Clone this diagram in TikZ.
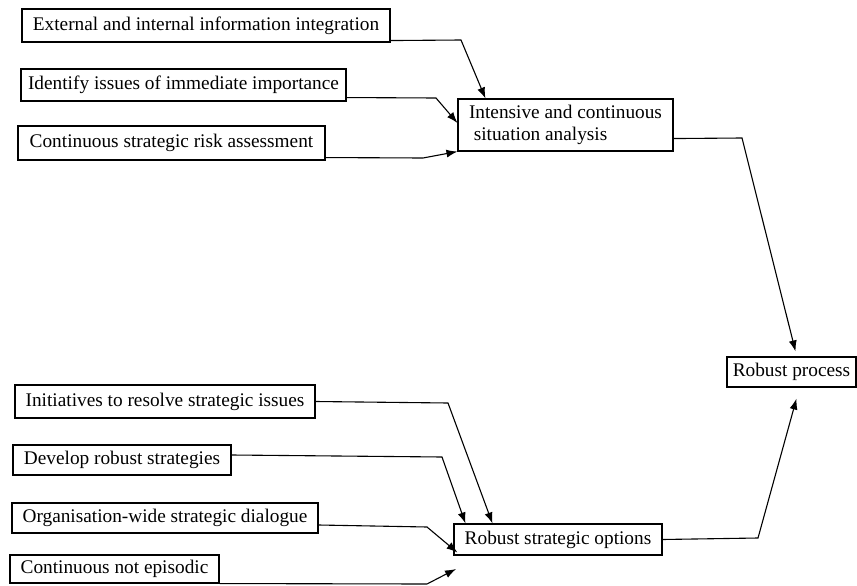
\documentclass[tikz,border=0pt]{standalone}
\usepackage{fontspec}
\setmainfont{Liberation Serif}
\usetikzlibrary{arrows.meta}
\begin{document}
\begin{tikzpicture}[x=1pt,y=-1pt,
  box/.style={draw, line width=1.1pt, inner sep=0pt, anchor=center,
    font=\fontsize{19.3}{21.5}\selectfont},
  arr/.style={line width=1.1pt, -{Latex[length=11pt,width=8pt]}}]
\useasboundingbox (0,0) rectangle (857,586);

% inputs to situation analysis
\node[box, minimum width=368pt, minimum height=33pt] (A) at (206,25.5) {External and internal information integration};
\node[box, minimum width=325pt, minimum height=32pt] (B) at (183.5,85) {Identify issues of immediate importance};
\node[box, minimum width=307pt, minimum height=34pt] (C) at (171.5,143) {Continuous strategic risk assessment};
\node[box, minimum width=215pt, minimum height=52pt, align=left] (I) at (565.5,125)
  {Intensive and continuous\\\hspace{0.25em}situation analysis};

% outcome
\node[box, minimum width=129pt, minimum height=30pt] (R) at (791.5,372) {Robust process};

% inputs to strategic options
\node[box, minimum width=300pt, minimum height=33pt] (D) at (165,401.5) {Initiatives to resolve strategic issues};
\node[box, minimum width=218pt, minimum height=30pt] (E) at (122,460) {Develop robust strategies};
\node[box, minimum width=306pt, minimum height=30pt] (F) at (165,518) {Organisation-wide strategic dialogue};
\node[box, minimum width=209pt, minimum height=28pt] (G) at (114.5,569) {Continuous not episodic};
\node[box, minimum width=208pt, minimum height=31pt] (S) at (558,539.5) {Robust strategic options};

% connectors
\draw[arr] ([yshift=2pt]A.south east) -- (461,40) -- ([xshift=28pt]I.north west);
\draw[arr] ([yshift=4pt]B.south east) -- (436,98) -- ([yshift=2pt]I.west);
\draw[arr] ([yshift=3pt]C.south east) -- (423,158) -- (I.south west);
\draw[arr] ([yshift=13pt]I.south east) -- (742,138) -- ([xshift=4pt,yshift=5pt]R.north);
\draw[arr] (S.east) -- (758,538) -- ([xshift=5pt,yshift=-11pt]R.south);

\draw[arr] (D.east) -- (448,403) -- ([xshift=39pt]S.north west);
\draw[arr] ([yshift=5pt]E.east) -- (442,457) -- ([xshift=12pt]S.north west);
\draw[arr] ([yshift=-7pt]F.east) -- (427,527) -- ([xshift=4pt,yshift=3pt]S.south west);
\coordinate (gEnd) at (456,569);
\draw[arr] (G.south east) -- (427,584) -- (gEnd);
\end{tikzpicture}
\end{document}
